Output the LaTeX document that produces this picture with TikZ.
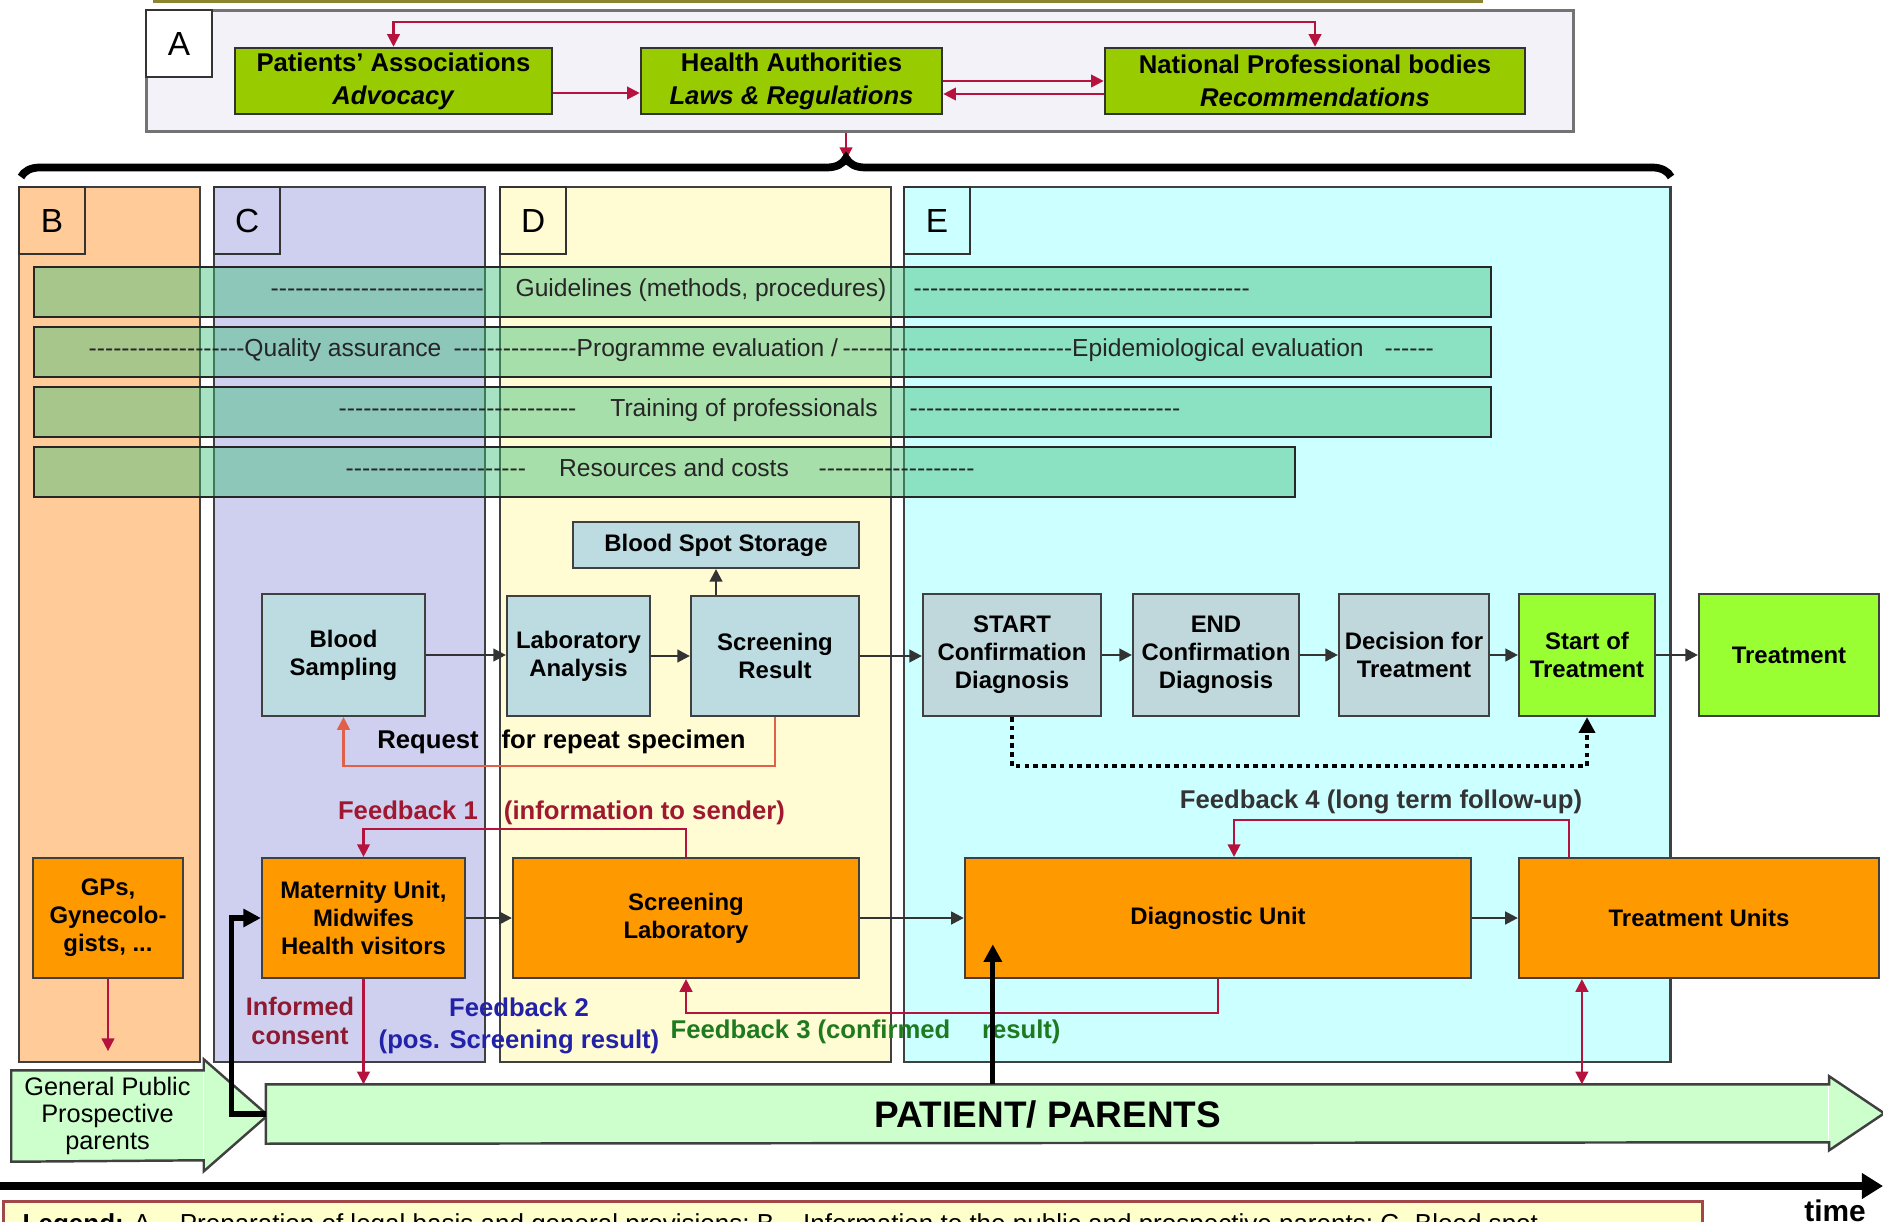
\documentclass[tikz,border=0pt]{standalone}
\usepackage{fontspec}
\setmainfont{Liberation Sans}
\usetikzlibrary{arrows.meta,decorations.pathreplacing}

\definecolor{topyellow}{HTML}{F4EE80}
\definecolor{topline}{HTML}{8C8530}
\definecolor{aback}{HTML}{F3F2F8}
\definecolor{govgreen}{HTML}{99CC00}
\definecolor{fbred}{HTML}{B5123E}
\definecolor{reqred}{HTML}{E0604A}
\definecolor{colB}{HTML}{FFCC99}
\definecolor{colC}{HTML}{CFCFEF}
\definecolor{colD}{HTML}{FFFBD2}
\definecolor{colE}{HTML}{CCFFFF}
\definecolor{bandgreen}{HTML}{3CBF7A}
\definecolor{procblue}{HTML}{BCDCE2}
\definecolor{diagblue}{HTML}{C0D8DC}
\definecolor{limegreen}{HTML}{99FF33}
\definecolor{unitorange}{HTML}{FF9900}
\definecolor{arrowgreen}{HTML}{CCFFCC}
\definecolor{legyellow}{HTML}{FFFFCC}
\definecolor{legline}{HTML}{A04848}
\definecolor{fbone}{HTML}{A01830}
\definecolor{fbtwo}{HTML}{2222A8}
\definecolor{fbthree}{HTML}{1E7A1E}
\definecolor{fbfour}{HTML}{333333}
\definecolor{consent}{HTML}{8E1A32}

\newcommand\dashrun[1]{\foreach \k in {1,...,#1}{-\kern0pt}}

\tikzset{
  abox/.style={draw=black!55, line width=0.8pt, fill=aback, anchor=north west, inner sep=0},
  govbox/.style={draw=black!80, line width=0.7pt, fill=govgreen, align=center, inner sep=0, minimum height=0.66cm, font=\fontsize{7.3pt}{9.4pt}\selectfont\bfseries},
  lblbox/.style={draw=black!80, line width=0.6pt, anchor=north west, minimum width=0.66cm, minimum height=0.67cm, inner sep=0, font=\fontsize{9.5pt}{11pt}\selectfont},
  colbox/.style={draw=black!75, line width=0.6pt, anchor=north west, inner sep=0, minimum height=8.74cm},
  band/.style={draw=black!85, line width=0.7pt, fill=bandgreen, fill opacity=0.45, anchor=north west, inner sep=0},
  bandtxt/.style={inner sep=0, text=black!85, font=\fontsize{7pt}{8pt}\selectfont},
  procbox/.style={draw=black!75, line width=0.6pt, fill=procblue, align=center, inner sep=1pt, minimum height=1.2cm, font=\fontsize{6.8pt}{8pt}\selectfont\bfseries},
  diagbox/.style={procbox, fill=diagblue, minimum height=1.22cm},
  treatbox/.style={procbox, fill=limegreen, minimum height=1.22cm},
  unitbox/.style={procbox, fill=unitorange},
  flowarr/.style={draw=black!80, line width=0.7pt, ->},
  redarr/.style={draw=fbred, line width=0.6pt, ->},
  reqarr/.style={draw=reqred, line width=0.6pt, ->},
  dotarr/.style={draw=black, line width=1.3pt, dash pattern=on 1.3pt off 1.2pt, -{Triangle[length=4.5pt,width=4.5pt]}},
  bigarr/.style={draw=black, line width=1.5pt, -{Triangle[length=5pt,width=5pt]}},
  fbtxt/.style={inner sep=0, font=\fontsize{7.3pt}{9pt}\selectfont\bfseries},
  bodynode/.style={fill=arrowgreen, inner sep=0, align=center},
  arrline/.style={draw=black!75, line width=0.7pt, line join=miter},
  timearr/.style={line width=2.2pt, -{Triangle[length=6pt,width=7pt]}}
}

\begin{document}
\begin{tikzpicture}[x=0.01cm, y=-0.01cm, >={Triangle[length=3.6pt,width=3.6pt]}]
\useasboundingbox (0,0) rectangle (1883,1222);
\clip (0,0) rectangle (1883,1222);

% A: legal basis
\node[draw=topline, fill=topyellow, line width=1pt, anchor=south west, inner sep=0, minimum width=13.26cm, minimum height=0.4cm] (prev) at (153,3) {};
\node[abox, minimum width=14.26cm, minimum height=1.21cm] (aBox) at (145,9) {};
\node[lblbox, fill=white] (lblA) at (aBox.north west) {A};
\node[govbox, minimum width=3.17cm] (patients) at (393.5,81) {Patients' Associations\\\textit{Advocacy}};
\node[govbox, minimum width=3.01cm] (health) at (791.5,81) {Health Authorities\\\textit{Laws \& Regulations}};
\node[govbox, minimum width=4.2cm] (national) at (1315,81) {National Professional bodies\\\textit{Recommendations}};

\draw[redarr, <->] (patients.north) -- ++(0,-25) -| (national.north);
\draw[redarr] ([yshift=-0.12cm]patients.east) -- ([yshift=-0.12cm]health.west);
\draw[redarr] (health.east) -- (national.west);
\draw[redarr] ([yshift=-0.13cm]national.west) -- ([yshift=-0.13cm]health.east);

\coordinate (bracetip) at (846,160);
\draw[redarr] (aBox.south -| bracetip) -- (bracetip);
\draw[line width=2.2pt, decorate, decoration={brace, amplitude=0.19cm}] (21,177) -- (1671,177);

% columns B-E
\node[colbox, fill=colB, minimum width=1.81cm] (colB) at (18,186) {};
\node[colbox, fill=colC, minimum width=2.71cm] (colC) at (213,186) {};
\node[colbox, fill=colD, minimum width=3.91cm] (colD) at (499,186) {};
\node[colbox, fill=colE, minimum width=7.66cm] (colE) at (903,186) {};
\foreach \c in {B,C,D,E}
  \node[lblbox, fill=col\c] (lbl\c) at (col\c.north west) {\c};

% horizontal bands
\foreach \y/\w/\n in {266/14.56/bGuide, 326/14.56/bQual, 386/14.56/bTrain, 446/12.6/bRes}
  \node[band, minimum width=\w cm, minimum height=0.5cm] (\n) at (33,\y) {};

\node[bandtxt, anchor=base west] (guideA) at (270,297) {\dashrun{26}};
\node[bandtxt, anchor=base] (guide) at (701,297) {Guidelines (methods, procedures)};
\node[bandtxt, anchor=base west] (guideB) at (913,297) {\dashrun{41}};
\node[bandtxt, anchor=base west] (qualA) at (88,357) {\dashrun{19}Quality assurance};
\node[bandtxt, anchor=base west] (qualB) at (453,357) {\dashrun{15}Programme evaluation /};
\node[bandtxt, anchor=base west] (qualC) at (842,357) {\dashrun{28}Epidemiological evaluation};
\node[bandtxt, anchor=base west] (qualD) at (1384,357) {\dashrun{6}};
\node[bandtxt, anchor=base west] (trainA) at (338,417) {\dashrun{29}};
\node[bandtxt, anchor=base] (train) at (744,417) {Training of professionals};
\node[bandtxt, anchor=base west] (trainB) at (909,417) {\dashrun{33}};
\node[bandtxt, anchor=base west] (resA) at (345,477) {\dashrun{22}};
\node[bandtxt, anchor=base] (res) at (674,477) {Resources and costs};
\node[bandtxt, anchor=base west] (resB) at (818,477) {\dashrun{19}};

% process steps
\node[procbox, minimum width=1.63cm, minimum height=1.22cm] (blood) at (343.5,655) {Blood\\Sampling};
\node[procbox, minimum width=1.43cm] (lab) at (578.5,656) {Laboratory\\Analysis};
\node[procbox, minimum width=1.68cm] (scrres) at (775,656) {Screening\\Result};
\node[procbox, minimum width=2.86cm, minimum height=0.46cm] (storage) at (716,545) {Blood Spot Storage};
\node[diagbox, minimum width=1.78cm] (startcd) at (1012,655) {START\\Confirmation\\Diagnosis};
\node[diagbox, minimum width=1.66cm] (endcd) at (1216,655) {END\\Confirmation\\Diagnosis};
\node[diagbox, minimum width=1.5cm] (decision) at (1414,655) {Decision for\\Treatment};
\node[treatbox, minimum width=1.36cm] (starttr) at (1587,655) {Start of\\Treatment};
\node[treatbox, minimum width=1.8cm] (treat) at (1789,655) {Treatment};

% units
\node[unitbox, minimum width=1.5cm] (gps) at (108,918) {GPs,\\Gynecolo-\\gists, ...};
\node[unitbox, minimum width=2.03cm] (mat) at (363.5,918) {Maternity Unit,\\Midwifes\\Health visitors};
\node[unitbox, minimum width=3.46cm] (scrlab) at (686,918) {Screening\\Laboratory};
\node[unitbox, minimum width=5.06cm] (diag) at (1218,918) {Diagnostic Unit};
\node[unitbox, minimum width=3.6cm] (tu) at (1699,918) {Treatment Units};

% big arrows
\node[bodynode, minimum width=1.91cm, minimum height=0.9cm, font=\fontsize{7.2pt}{7.8pt}\selectfont] (gp) at (107.5,1116) {General Public\\Prospective\\parents};
\fill[arrowgreen] (gp.north east) ++(0,-11) -- ++(64,56) -- ++(-64,56) -- cycle;
\draw[arrline] (gp.south west) -- (gp.north west) -- (gp.north east) -- ++(0,-11) -- ++(64,56) -- ++(-64,56) -- ++(0,-11) -- cycle;
\node[bodynode, minimum width=15.61cm, minimum height=0.58cm, font=\fontsize{10.5pt}{12pt}\selectfont\bfseries] (pat) at (1047.5,1114) {PATIENT/ PARENTS};
\fill[arrowgreen] (pat.north east) ++(0,-8) -- ++(55,37) -- ++(-55,37) -- cycle;
\draw[arrline] (pat.south west) -- (pat.north west) -- (pat.north east) -- ++(0,-8) -- ++(55,37) -- ++(-55,37) -- ++(0,-8) -- cycle;

% flow
\foreach \a/\b in {blood/lab, lab/scrres, scrres/startcd, startcd/endcd, endcd/decision, decision/starttr, starttr/treat, mat/scrlab, scrlab/diag, diag/tu}
  \draw[flowarr] (\a.east) -- (\a.east -| \b.west);
\draw[flowarr] (scrres.north -| storage) -- (storage.south);
\draw[dotarr] (startcd.south) -- ++(0,49) -| (starttr.south);

% feedback loops
\draw[reqarr] (scrres.south) -- ++(0,49) -| (blood.south);
\node[fbtxt] (reqtxt) at (561.5,742) {Request\hspace{4.5pt} for repeat specimen};
\draw[redarr] (scrlab.north) -- ++(0,-28) -| (mat.north);
\node[fbtxt, text=fbone] (fb1) at (561.5,813) {Feedback 1\hspace{5.4pt} (information to sender)};
\draw[redarr] ([xshift=0.51cm]tu.north west) -- ++(0,-37) -| ([xshift=0.16cm]diag.north);
\node[fbtxt, text=fbfour] (fb4) at (1381,802) {Feedback 4 (long term follow-up)};
\draw[redarr] (diag.south) -- ++(0,34) -| (scrlab.south);
\node[fbtxt, text=fbthree, anchor=west] (fb3) at (670,1032) {Feedback 3 (confirmed\hspace{7pt} result)};
\node[fbtxt, text=fbtwo, align=center] (fb2) at (519,1026) {Feedback 2\\(pos. Screening result)};
\node[fbtxt, text=consent, align=center, font=\fontsize{7.2pt}{8pt}\selectfont\bfseries] (cons) at (300,1021) {Informed\\consent};

\draw[redarr] (gps.south) -- ++(0,72);
\draw[redarr] (mat.south) -- (mat.south |- pat.north);
\draw[redarr, <->] ([xshift=0.64cm]tu.south west) -- ([xshift=0.64cm]tu.south west |- pat.north);
\draw[bigarr] (pat.west) -- ++(-34,0) |- (mat.west);
\draw[bigarr] ([xshift=0.29cm]diag.south west |- pat.north) -- ++(0,-140);

% time axis and legend
\coordinate (t0) at (0,1186);
\coordinate (t1) at (1883,1186);
\draw[timearr] (t0) -- (t1);
\node[anchor=base, inner sep=0, font=\fontsize{8.5pt}{10pt}\selectfont\bfseries] (timelbl) at (1835,1221) {time};
\node[draw=legline, fill=legyellow, line width=0.8pt, anchor=north west, inner sep=0, minimum width=16.98cm, minimum height=0.6cm] (legend) at (2,1200) {};
\node[anchor=base west, inner sep=0, font=\fontsize{7.4pt}{9pt}\selectfont] (legtext) at (22,1232) {\textbf{Legend:} A – Preparation of legal basis and general provisions; B – Information to the public and prospective parents; C- Blood spot};
\end{tikzpicture}
\end{document}
